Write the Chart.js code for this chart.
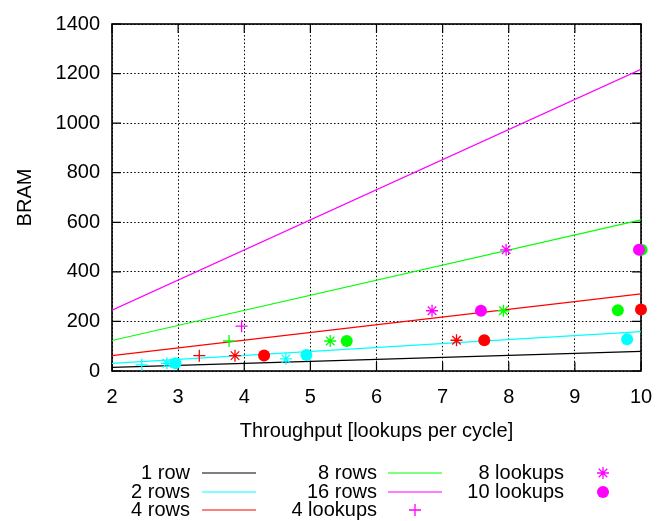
<!DOCTYPE html>
<html>
<head>
<meta charset="utf-8">
<script src="https://cdn.jsdelivr.net/npm/chart.js@4/dist/chart.umd.min.js"></script>
<style>
  html, body { margin: 0; padding: 0; background: #fff; }
  #wrap { width: 667px; height: 521px; }
</style>
</head>
<body>
<div id="wrap"><canvas id="c" width="667" height="521"></canvas></div>
<script>
// Axis ticks
const xTicks = [2, 3, 4, 5, 6, 7, 8, 9, 10];
const yTicks = [0, 200, 400, 600, 800, 1000, 1200, 1400];

// Reference lines: BRAM cost at the ends of the throughput range
const lineThroughput = [2, 10];
const rowLabels = ['1 row', '2 rows', '4 rows', '8 rows', '16 rows'];
const rowCounts = [1, 2, 4, 8, 16];
const bram1Row = [15, 79];
const bram2Rows = [31, 159];
const bram4Rows = [62, 311];
const bram8Rows = [123, 610];
const bram16Rows = [245, 1217];

// Measured designs, grouped by lookups; rows give the configuration
const lookups4Throughput = [2.45, 3.32, 3.77, 3.96];
const lookups4Bram = [25, 62, 121, 181];
const lookups4Rows = [2, 4, 8, 16];

const lookups8Throughput = [2.83, 3.86, 4.63, 5.30, 6.84, 7.21, 7.92, 7.96];
const lookups8Bram = [31, 62, 49, 121, 243, 124, 243, 489];
const lookups8Rows = [2, 4, 2, 8, 16, 4, 8, 16];

const lookups10Throughput = [2.96, 4.30, 4.94, 5.55, 7.58, 7.63, 9.65, 9.79, 10.0, 10.01, 9.97];
const lookups10Bram = [31, 63, 65, 121, 243, 124, 245, 128, 248, 489, 489];
const lookups10Rows = [2, 4, 2, 8, 16, 4, 8, 2, 4, 8, 16];

// Styling
const rowColor = { 1: '#000000', 2: '#00ffff', 4: '#ff0000', 8: '#00ff00', 16: '#ff00ff' };
const FONT = 'Liberation Sans, Arial, Helvetica, sans-serif';
const FONT_SIZE = 20;

const toPoints = (xs, ys) => xs.map((x, i) => ({ x: x, y: ys[i] }));

const rowBram = [bram1Row, bram2Rows, bram4Rows, bram8Rows, bram16Rows];
const lineSets = rowLabels.map((label, i) => ({
  label: label,
  data: toPoints(lineThroughput, rowBram[i]),
  borderColor: rowColor[rowCounts[i]],
  borderWidth: 1.2,
  pointRadius: 0,
  tension: 0,
  order: 10,
  kind: 'line'
}));

function pointSet(label, xs, ys, rows, style) {
  const colors = rows.map(r => rowColor[r]);
  return {
    label: label,
    data: toPoints(xs, ys),
    showLine: false,
    pointStyle: style,
    pointRadius: 6,
    pointHoverRadius: 6,
    pointBorderWidth: style === 'circle' ? 0 : 1.3,
    pointBorderColor: colors,
    pointBackgroundColor: colors,
    borderColor: colors,
    backgroundColor: colors,
    clip: false,
    order: 0,
    kind: 'point'
  };
}

const datasets = lineSets.concat([
  pointSet('4 lookups', lookups4Throughput, lookups4Bram, lookups4Rows, 'cross'),
  pointSet('8 lookups', lookups8Throughput, lookups8Bram, lookups8Rows, 'star'),
  pointSet('10 lookups', lookups10Throughput, lookups10Bram, lookups10Rows, 'circle')
]);

// Solid frame with inward tick marks on all four sides
const framePlugin = {
  id: 'frame',
  beforeDatasetsDraw(chart) {
    const { ctx, chartArea: a, scales: { x, y } } = chart;
    const tl = 9;
    ctx.save();
    ctx.strokeStyle = '#000';
    ctx.lineWidth = 1.2;
    ctx.beginPath();
    xTicks.forEach(v => {
      const px = x.getPixelForValue(v);
      ctx.moveTo(px, a.bottom); ctx.lineTo(px, a.bottom - tl);
      ctx.moveTo(px, a.top); ctx.lineTo(px, a.top + tl);
    });
    yTicks.forEach(v => {
      const py = y.getPixelForValue(v);
      ctx.moveTo(a.left, py); ctx.lineTo(a.left + tl, py);
      ctx.moveTo(a.right, py); ctx.lineTo(a.right - tl, py);
    });
    ctx.stroke();
    ctx.lineWidth = 1.6;
    ctx.strokeRect(a.left, a.top, a.right - a.left, a.bottom - a.top);
    ctx.restore();
  }
};

// Key below the plot: three columns, text right-aligned before its sample
const keyPlugin = {
  id: 'key',
  afterDraw(chart) {
    const ctx = chart.ctx;
    const textRight = [190, 377, 564];
    const sampleMid = [229, 415, 603];
    const rowY = [473, 492, 510];
    ctx.save();
    ctx.font = FONT_SIZE + 'px ' + FONT;
    ctx.textAlign = 'right';
    ctx.textBaseline = 'middle';
    chart.data.datasets.forEach((ds, i) => {
      const col = Math.floor(i / 3), row = i % 3;
      const ty = rowY[row];
      ctx.fillStyle = '#000';
      ctx.fillText(ds.label, textRight[col], ty);
      const cx = sampleMid[col];
      if (ds.kind === 'line') {
        ctx.strokeStyle = ds.borderColor;
        ctx.lineWidth = 1.2;
        ctx.beginPath();
        ctx.moveTo(cx - 27, ty); ctx.lineTo(cx + 27, ty);
        ctx.stroke();
      } else {
        const r = 6, c = rowColor[16];
        ctx.strokeStyle = c; ctx.fillStyle = c; ctx.lineWidth = 1.3;
        ctx.beginPath();
        if (ds.pointStyle === 'circle') {
          ctx.arc(cx, ty, r, 0, Math.PI * 2);
          ctx.fill();
        } else {
          ctx.moveTo(cx - r, ty); ctx.lineTo(cx + r, ty);
          ctx.moveTo(cx, ty - r); ctx.lineTo(cx, ty + r);
          if (ds.pointStyle === 'star') {
            const d = r * Math.SQRT1_2;
            ctx.moveTo(cx - d, ty - d); ctx.lineTo(cx + d, ty + d);
            ctx.moveTo(cx - d, ty + d); ctx.lineTo(cx + d, ty - d);
          }
          ctx.stroke();
        }
      }
    });
    ctx.restore();
  }
};

const tickFont = { family: FONT, size: FONT_SIZE };
const gridStyle = {
  color: '#000',
  lineWidth: 1,
  drawTicks: false,
  tickLength: 0
};
// In Chart.js v4 the grid-line dash pattern comes from the border options
const gridBorder = { display: false, dash: [1.5, 2.2] };

new Chart(document.getElementById('c'), {
  type: 'line',
  data: { datasets: datasets },
  options: {
    responsive: false,
    animation: false,
    events: [],
    layout: { padding: { left: 0, right: 26, top: 16, bottom: 78 } },
    plugins: { legend: { display: false }, tooltip: { enabled: false } },
    scales: {
      x: {
        type: 'linear',
        min: 2, max: 10,
        afterBuildTicks: s => { s.ticks = xTicks.map(v => ({ value: v })); },
        afterFit: s => { s.height = 72; },
        grid: gridStyle,
        border: gridBorder,
        ticks: { font: tickFont, color: '#000', padding: 14, maxRotation: 0, callback: v => String(v) },
        title: { display: true, text: 'Throughput [lookups per cycle]', font: tickFont, color: '#000', padding: 0 }
      },
      y: {
        type: 'linear',
        min: 0, max: 1400,
        afterBuildTicks: s => { s.ticks = yTicks.map(v => ({ value: v })); },
        afterFit: s => { s.width = 112; },
        grid: gridStyle,
        border: gridBorder,
        ticks: { font: tickFont, color: '#000', padding: 12, callback: v => String(v) },
        title: { display: true, text: 'BRAM', font: tickFont, color: '#000', padding: { top: 13, bottom: 0 } }
      }
    }
  },
  plugins: [framePlugin, keyPlugin]
});
</script>
</body>
</html>
